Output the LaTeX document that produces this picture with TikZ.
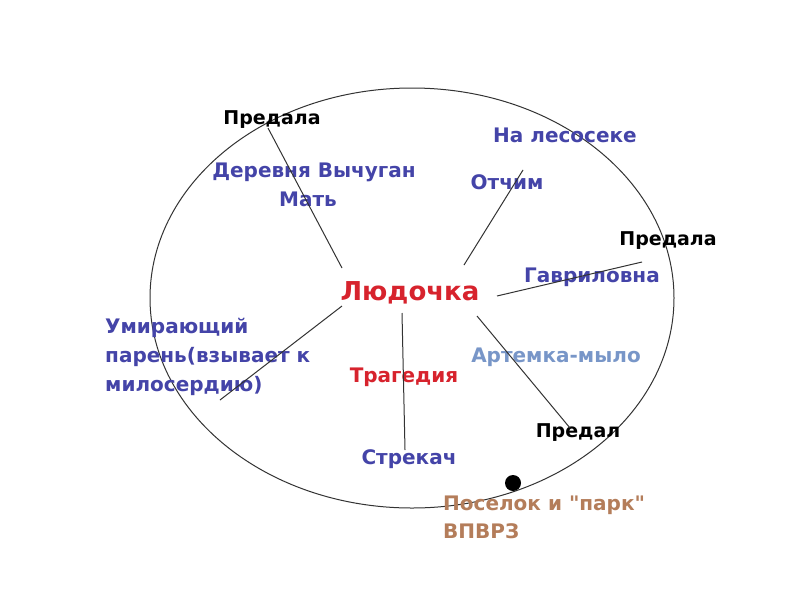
\documentclass[tikz,border=0pt]{standalone}
\usepackage{fontspec}
\setmainfont{DejaVu Sans}[Ligatures=TeXOff]
\begin{document}
\begin{tikzpicture}[x=1pt,y=-1pt,
  lbl/.style={font=\bfseries\fontsize{20}{24}\selectfont, inner sep=0pt},
  blk/.style={lbl, text=black, font=\bfseries\fontsize{19}{23}\selectfont},
  blu/.style={lbl, text=labblue},
  conn/.style={draw=black!80, line width=1pt}]
\definecolor{labblue}{RGB}{68,68,168}
\definecolor{labred}{RGB}{215,35,45}
\definecolor{lablight}{RGB}{120,150,200}
\definecolor{labbrown}{RGB}{180,125,90}
\useasboundingbox (0,0) rectangle (800,600);
\fill[white] (0,0) rectangle (800,600);
% circle
\draw[black!80, line width=1pt] (412,298) ellipse [x radius=262, y radius=210];
% labels
\node[blk] (p1) at (272,120) {Предала};
\node[blu] (der) at (314,172) {Деревня Вычуган};
\node[blu] (mat) at (308,199) {Мать};
\node[blu] (les) at (565,135) {На лесосеке};
\node[blu] (otc) at (507,182) {Отчим};
\node[blk] (p2) at (668,241) {Предала};
\node[blu] (gav) at (592,277) {Гавриловна};
\node[lbl, text=labred, font=\bfseries\fontsize{26}{30}\selectfont] (lud) at (410,293) {Людочка};
\node[blu, anchor=north west, align=left, font=\bfseries\fontsize{20}{29}\selectfont] (umi) at (105,318) {Умирающий\\парень(взывает к\\милосердию)};
\node[lbl, text=labred] (tra) at (404,377) {Трагедия};
\node[lbl, text=lablight] (art) at (556,357) {Артемка-мыло};
\node[blk] (p3) at (578,433) {Предал};
\node[blu] (str) at (409,459) {Стрекач};
\node[lbl, text=labbrown, anchor=north west, align=left, font=\bfseries\fontsize{20}{28}\selectfont] (pos) at (443,496) {Поселок и "парк"\\ВПВРЗ};
% connector ends
\coordinate (a1) at (268,128); \coordinate (a2) at (342,268);
\coordinate (b1) at (523,170); \coordinate (b2) at (464,265);
\coordinate (c1) at (642,262); \coordinate (c2) at (497,296);
\coordinate (d1) at (342,306); \coordinate (d2) at (220,400);
\coordinate (e1) at (402,313); \coordinate (e2) at (405,450);
\coordinate (f1) at (477,316); \coordinate (f2) at (570,428);
\draw[conn] (a1) -- (a2);
\draw[conn] (b1) -- (b2);
\draw[conn] (c1) -- (c2);
\draw[conn] (d1) -- (d2);
\draw[conn] (e1) -- (e2);
\draw[conn] (f1) -- (f2);
\fill[black] (513,483) circle[radius=8];
\end{tikzpicture}
\end{document}
